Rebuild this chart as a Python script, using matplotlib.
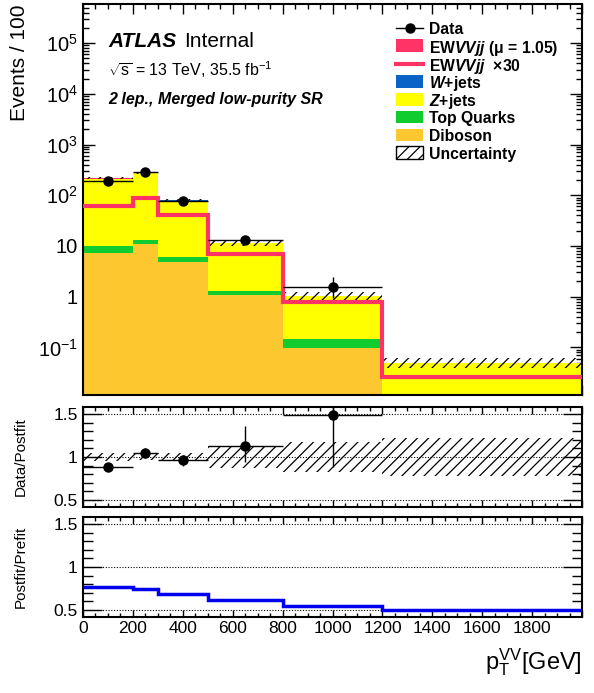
import matplotlib
matplotlib.use("Agg")
import matplotlib.pyplot as plt
import numpy as np
from matplotlib.lines import Line2D
from matplotlib.patches import Rectangle
from matplotlib.ticker import LogLocator, MultipleLocator, FuncFormatter, NullFormatter

plt.rcParams["font.family"] = ["Liberation Sans", "DejaVu Sans"]
plt.rcParams["mathtext.fontset"] = "custom"
plt.rcParams["mathtext.rm"] = "Liberation Sans"
plt.rcParams["mathtext.it"] = "Liberation Sans:italic:bold"
plt.rcParams["mathtext.bf"] = "Liberation Sans:bold"
plt.rcParams["hatch.linewidth"] = 0.9

# pT(VV) binning [GeV]
edges = [0, 200, 300, 500, 800, 1200, 2000]

# stacked backgrounds, events / 100 GeV (bottom -> top)
diboson = [7.4, 11.0, 4.8, 1.07, 0.096, 0.004]
top_quarks = [2.6, 2.0, 1.2, 0.23, 0.049, 0.001]
z_jets = [203, 256, 72.7, 9.9, 0.87, 0.044]
w_jets = [0.05, 0.05, 0.02, 0.005, 0.001, 0.0002]
ew_vvjj = [2.0, 3.0, 1.3, 0.23, 0.027, 0.0009]
ew_vvjj_x30 = [60, 90, 40, 6.9, 0.8, 0.026]
unc_rel = [0.045, 0.04, 0.05, 0.13, 0.17, 0.22]

# data (no entry in the last bin)
data = [190, 285, 77, 12.9, 1.55]
data_err_up = [10, 15, 5, 2.6, 0.92]
data_err_dn = [10, 15, 5, 2.1, 0.63]

# postfit / prefit ratio of the total background
postfit_prefit = [0.77, 0.745, 0.69, 0.62, 0.55, 0.505]

c_dib = "#FDC82F"
c_top = "#10CC2E"
c_z = "#FFFF00"
c_w = "#0A64C8"
c_ew = "#FF3366"

edges = np.array(edges, dtype=float)
centers = 0.5 * (edges[1:] + edges[:-1])
halfw = 0.5 * (edges[1:] - edges[:-1])
nd = len(data)

fig = plt.figure(figsize=(5.94, 6.93), dpi=100)
W, H = 594.0, 693.0
left, right = 82.7 / W, 582.3 / W


def pane(top_px, bot_px):
    return fig.add_axes([left, 1 - bot_px / H, right - left, (bot_px - top_px) / H])


ax1 = pane(4, 395)
ax2 = pane(407, 507)
ax3 = pane(517, 617)

# ---- main panel
layers = [diboson, top_quarks, z_jets, w_jets, ew_vvjj]
colors = [c_dib, c_top, c_z, c_w, c_ew]
cum = np.zeros(len(diboson))
for vals, col in zip(layers, colors):
    new = cum + np.array(vals)
    ax1.stairs(new, edges, baseline=np.maximum(cum, 1e-4), fill=True,
               color=col, lw=0, zorder=2)
    cum = new
total = cum

ax1.stairs(total * (1 + np.array(unc_rel)), edges,
           baseline=total * (1 - np.array(unc_rel)), fill=True,
           facecolor="none", edgecolor="black", hatch="///", lw=0, zorder=3)
ax1.stairs(ew_vvjj_x30, edges, baseline=None, color=c_ew, lw=3, zorder=4)
ax1.errorbar(centers[:nd], data, xerr=halfw[:nd], yerr=[data_err_dn, data_err_up],
             fmt="o", color="black", ms=6.5, lw=1, capsize=0, zorder=5)

ax1.set_yscale("log")
ax1.set_ylim(0.0115, 5.9e5)


def log_fmt(v, pos):
    e = int(round(np.log10(v)))
    if e == 0:
        return "1"
    if e == 1:
        return "10"
    return r"$10^{%d}$" % e


ax1.yaxis.set_major_locator(LogLocator(base=10, numticks=20))
ax1.yaxis.set_minor_locator(LogLocator(base=10, subs=np.arange(2, 10), numticks=20))
ax1.yaxis.set_major_formatter(FuncFormatter(log_fmt))
ax1.yaxis.set_minor_formatter(NullFormatter())
ax1.set_ylabel("Events / 100", fontsize=15, loc="top")
ax1.yaxis.set_label_coords(-0.107, 1.0)

# ---- ratio panels
ratio = np.array(data) / total[:nd]
ratio_up = np.array(data_err_up) / total[:nd]
ratio_dn = np.array(data_err_dn) / total[:nd]
ax2.stairs(1 + np.array(unc_rel), edges, baseline=1 - np.array(unc_rel), fill=True,
           facecolor="none", edgecolor="black", hatch="///", lw=0, zorder=2)
ax2.errorbar(centers[:nd], ratio, xerr=halfw[:nd], yerr=[ratio_dn, ratio_up],
             fmt="o", color="black", ms=6.5, lw=1, capsize=0, zorder=5)
ax2.set_ylabel("Data/Postfit", fontsize=11)
ax2.yaxis.set_label_coords(-0.11, 0.5)

ax3.stairs(postfit_prefit, edges, baseline=None, color="#0000EE", lw=2.5, zorder=4)
ax3.set_ylabel("Postfit/Prefit", fontsize=11)
ax3.yaxis.set_label_coords(-0.11, 0.5)

for ax in (ax2, ax3):
    ax.set_ylim(0.42, 1.58)
    for yv in (0.5, 1.0, 1.5):
        ax.axhline(yv, color="black", ls=(0, (1, 1.5)), lw=0.8, zorder=1)
    ax.yaxis.set_major_locator(MultipleLocator(0.5))
    ax.yaxis.set_minor_locator(MultipleLocator(0.1))
    ax.yaxis.set_major_formatter(FuncFormatter(lambda v, p: "%g" % v))
    ax.tick_params(axis="y", which="major", length=14, labelsize=12.5)
    ax.tick_params(axis="y", which="minor", length=7)
    ax.tick_params(axis="x", which="major", length=5)
    ax.tick_params(axis="x", which="minor", length=2.9)

for ax in (ax1, ax2, ax3):
    ax.set_xlim(0, 2000)
    ax.xaxis.set_major_locator(MultipleLocator(200))
    ax.xaxis.set_minor_locator(MultipleLocator(50))
    ax.tick_params(which="both", direction="in", top=True, right=True, width=1,
                   colors="black")
    for sp in ax.spines.values():
        sp.set_linewidth(1.5)

ax1.tick_params(axis="y", which="major", length=8.6, labelsize=14.5)
ax1.tick_params(axis="y", which="minor", length=4.3)
ax1.tick_params(axis="x", which="major", length=7)
ax1.tick_params(axis="x", which="minor", length=3.6)
ax1.tick_params(axis="x", labelbottom=False)
ax2.tick_params(axis="x", labelbottom=False)
ax3.xaxis.set_major_formatter(FuncFormatter(lambda v, p: "" if v >= 1999 else "%d" % v))
ax3.tick_params(axis="x", labelsize=12.5, pad=3)

fig.text(582 / W, 1 - 662 / H, r"p$_{\mathrm{T}}^{\mathrm{VV}}$[GeV]", fontsize=17,
         ha="right", va="center")

# ---- labels
fig.text(108 / W, 1 - 47 / H, "ATLAS", fontsize=15, fontweight="bold",
         fontstyle="italic", ha="left", va="baseline")
fig.text(184 / W, 1 - 47 / H, "Internal", fontsize=15, ha="left", va="baseline")
fig.text(108 / W, 1 - 76 / H, r"$\sqrt{\mathrm{s}}$ = 13 TeV, 35.5 fb$^{-1}$",
         fontsize=11.5, ha="left", va="baseline")
fig.text(108 / W, 1 - 104 / H, "2 lep., Merged low-purity SR", fontsize=11.5,
         fontweight="bold", fontstyle="italic", ha="left", va="baseline")

# ---- legend, drawn row by row like ROOT's TLegend
leg_entries = [
    ("marker", "black", "Data"),
    ("box", c_ew, "EW$VVjj$ (\u03bc = 1.05)"),
    ("line", c_ew, "EW$VVjj$  \u00d730"),
    ("box", c_w, "$W$+jets"),
    ("box", c_z, "$Z$+jets"),
    ("box", c_top, "Top Quarks"),
    ("box", c_dib, "Diboson"),
    ("hatch", "black", "Uncertainty"),
]
x0, x1, xt = 396, 423, 429
for i, (kind, col, lab) in enumerate(leg_entries):
    yc = 28 + i * 17.8
    fy = 1 - yc / H
    if kind == "marker":
        fig.add_artist(Line2D([x0 / W, x1 / W], [fy, fy], color=col, lw=1,
                              transform=fig.transFigure))
        fig.add_artist(Line2D([(x0 + x1) / 2 / W], [fy], color=col, marker="o",
                              ms=6.5, lw=0, transform=fig.transFigure))
    elif kind == "line":
        fig.add_artist(Line2D([x0 / W, x1 / W], [fy, fy], color=col, lw=3,
                              transform=fig.transFigure))
    elif kind == "box":
        fig.add_artist(Rectangle((x0 / W, fy - 6.3 / H), (x1 - x0) / W, 12.6 / H,
                                 facecolor=col, edgecolor="none",
                                 transform=fig.transFigure))
    else:
        fig.add_artist(Rectangle((x0 / W, fy - 6.3 / H), (x1 - x0) / W, 12.6 / H,
                                 facecolor="none", edgecolor=col, hatch="///", lw=1,
                                 transform=fig.transFigure))
    fig.text(xt / W, fy, lab, fontsize=11.3, fontweight="bold", ha="left",
             va="center_baseline")

fig.savefig("out.png", dpi=100)
